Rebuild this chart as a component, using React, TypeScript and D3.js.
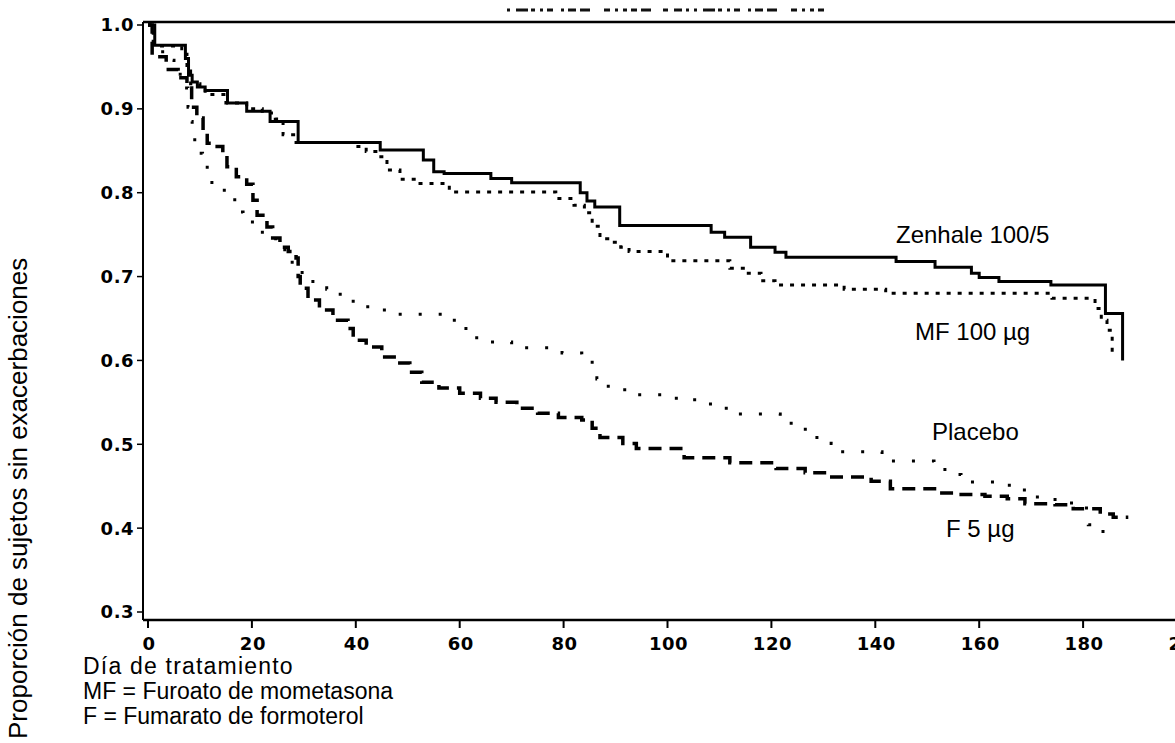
import React, { useEffect, useRef } from 'react'
import * as d3 from 'd3'

// Kaplan-Meier style step curves: [day, proportion after that day]
const zenhale: [number, number][] = [
  [0, 1.0], [1.3, 0.976], [7.2, 0.96], [7.8, 0.94], [8.5, 0.932], [9.5, 0.926], [11, 0.922],
  [15.3, 0.907], [19, 0.897], [23.5, 0.885], [28.9, 0.86], [44.7, 0.851], [53, 0.839],
  [55, 0.825], [57, 0.823], [66, 0.817], [70, 0.812], [83.2, 0.8], [84.5, 0.79], [86, 0.783],
  [90.8, 0.761], [108.4, 0.753], [111, 0.747], [116, 0.735], [120.7, 0.729], [122.8, 0.723],
  [144, 0.718], [151.5, 0.711], [158.5, 0.704], [160, 0.699], [163.8, 0.694], [173.8, 0.69],
  [184.3, 0.656], [187.6, 0.6]
]

const mf100: [number, number][] = [
  [0, 1.0], [1, 0.975], [6.5, 0.965], [7.5, 0.945], [8.2, 0.93], [10, 0.924], [11, 0.917],
  [15, 0.907], [19, 0.9], [22, 0.895], [24.5, 0.888], [26, 0.869], [28.5, 0.86], [40, 0.855],
  [42, 0.849], [44.5, 0.843], [46, 0.827], [48.5, 0.816], [52, 0.811], [58, 0.801],
  [78.5, 0.793], [82, 0.785], [84, 0.776], [85.5, 0.76], [87, 0.745], [88.5, 0.741],
  [91, 0.735], [92.6, 0.73], [100, 0.719], [112, 0.71], [115, 0.704], [118, 0.695],
  [120.7, 0.69], [134, 0.685], [142, 0.68], [174, 0.674], [182.3, 0.662], [183.5, 0.648],
  [184.6, 0.636], [185.6, 0.609]
]

const placebo: [number, number][] = [
  [0, 1.0], [1, 0.968], [3.5, 0.958], [5, 0.948], [6.2, 0.938], [7, 0.925], [7.7, 0.902],
  [8.2, 0.885], [8.5, 0.866], [9, 0.847], [10.5, 0.835], [11.4, 0.819], [12.3, 0.803],
  [15, 0.795], [16.7, 0.777], [18.3, 0.765], [21, 0.753], [23, 0.745], [25, 0.732],
  [27.3, 0.717], [29, 0.705], [31, 0.694], [34.4, 0.685], [37, 0.677], [39.5, 0.664],
  [44, 0.66], [48, 0.655], [57.5, 0.648], [60.5, 0.638], [62.6, 0.627], [66, 0.622],
  [70, 0.615], [79.7, 0.609], [83.5, 0.605], [85.5, 0.592], [86.4, 0.578], [88.6, 0.565],
  [92.6, 0.559], [101.7, 0.553], [105.7, 0.548], [109.5, 0.543], [113.6, 0.536],
  [121.7, 0.525], [125.5, 0.518], [127.3, 0.508], [131.5, 0.501], [133.2, 0.491],
  [141.3, 0.48], [151.3, 0.475], [153.4, 0.464], [156.5, 0.455], [165.8, 0.449],
  [168.7, 0.437], [174.6, 0.43], [178.4, 0.424], [181, 0.404], [183.1, 0.396], [185, 0.396]
]

const f5: [number, number][] = [
  [0, 1.0], [0.8, 0.962], [3.5, 0.947], [5.8, 0.937], [7.5, 0.925], [8.4, 0.902], [9.4, 0.889],
  [10.6, 0.872], [11.4, 0.859], [12.5, 0.855], [14.4, 0.847], [15.2, 0.831], [17, 0.819],
  [19, 0.81], [20.2, 0.791], [21, 0.773], [22.9, 0.759], [24, 0.746], [25.4, 0.735], [27, 0.73],
  [28.5, 0.722], [28.9, 0.7], [29.3, 0.686], [30.8, 0.672], [33, 0.66], [35.6, 0.648],
  [38.5, 0.638], [39.5, 0.624], [42, 0.616], [45, 0.604], [48, 0.597], [50.4, 0.586],
  [52.7, 0.574], [56, 0.567], [60, 0.561], [64, 0.555], [67, 0.55], [71, 0.543], [75, 0.537],
  [79, 0.532], [83.5, 0.529], [85.5, 0.519], [87, 0.508], [91.4, 0.501], [94, 0.495],
  [103.2, 0.484], [112, 0.478], [120.9, 0.471], [126.5, 0.466], [130.7, 0.461], [139.2, 0.456],
  [142.9, 0.447], [152.3, 0.442], [155.8, 0.44], [161.1, 0.438], [165.4, 0.435], [168.8, 0.429],
  [174.6, 0.428], [178.1, 0.423], [183.3, 0.417], [185.8, 0.413], [188.7, 0.413]
]

const xTicks = [0, 20, 40, 60, 80, 100, 120, 140, 160, 180, 200]
const yTicks = [0.3, 0.4, 0.5, 0.6, 0.7, 0.8, 0.9, 1.0]

const seriesLabels = ['Zenhale 100/5', 'MF 100 µg', 'Placebo', 'F 5 µg']
const notes = ['Día de tratamiento', 'MF = Furoato de mometasona', 'F = Fumarato de formoterol']
const yTitle = 'Proporción de sujetos sin exacerbaciones'

const FONT = '"Liberation Sans", Arial, sans-serif'
const TICK_FONT = '"DejaVu Sans", Verdana, sans-serif'

export default function App() {
  const ref = useRef<SVGSVGElement>(null)

  useEffect(() => {
    const svg = d3.select(ref.current)
    svg.selectAll('*').remove()

    const x = d3.scaleLinear().domain([0, 200]).range([148, 1187])
    const y = d3.scaleLinear().domain([0.3, 1.0]).range([612, 25])

    const left = 143, top = 22, bottom = 620, right = 1175

    // garbled scanned header at top
    svg.append('line')
      .attr('x1', 507).attr('x2', 826).attr('y1', 10).attr('y2', 10)
      .attr('stroke', '#111').attr('stroke-width', 3)
      .attr('stroke-dasharray', '3,6,12,3,4,5,3,4,6,8,3,4,8,4,10,14,6,5,3,5,4,4,6,4,10,12,5,6,8,4,3,5')

    // frame
    svg.append('line').attr('x1', left).attr('x2', right).attr('y1', top).attr('y2', top)
      .attr('stroke', '#000').attr('stroke-width', 2.5)
    svg.append('line').attr('x1', left).attr('x2', right).attr('y1', bottom).attr('y2', bottom)
      .attr('stroke', '#000').attr('stroke-width', 2.5)
    svg.append('line').attr('x1', left).attr('x2', left).attr('y1', top).attr('y2', bottom)
      .attr('stroke', '#000').attr('stroke-width', 2)

    // y ticks
    const yg = svg.append('g')
    yTicks.forEach(t => {
      yg.append('line').attr('x1', left - 6).attr('x2', left).attr('y1', y(t)).attr('y2', y(t))
        .attr('stroke', '#000').attr('stroke-width', 1.5)
      yg.append('text').attr('x', 134).attr('y', y(t)).attr('dy', '0.36em')
        .attr('text-anchor', 'end').attr('font-family', TICK_FONT).attr('font-size', 18)
        .attr('font-weight', 'bold').attr('letter-spacing', 0.5)
        .text(t.toFixed(1))
    })

    // x ticks
    const xg = svg.append('g')
    xTicks.forEach(t => {
      xg.append('line').attr('x1', x(t)).attr('x2', x(t)).attr('y1', bottom).attr('y2', bottom + 8)
        .attr('stroke', '#000').attr('stroke-width', 2)
      xg.append('text').attr('x', x(t) + 1).attr('y', 644).attr('dy', '0.36em')
        .attr('text-anchor', 'middle').attr('font-family', TICK_FONT).attr('font-size', 18)
        .attr('font-weight', 'bold').attr('letter-spacing', 0.5)
        .text(String(t))
    })

    const line = d3.line<[number, number]>()
      .x(d => x(d[0]))
      .y(d => y(d[1]))
      .curve(d3.curveStepAfter)

    const styles = [
      { data: zenhale, dash: null, w: 3 },
      { data: mf100, dash: '4,7', w: 3 },
      { data: placebo, dash: '3,17', w: 3 },
      { data: f5, dash: '13,8', w: 3.5 }
    ]
    styles.forEach(s => {
      const p = svg.append('path')
        .attr('d', line(s.data))
        .attr('fill', 'none')
        .attr('stroke', '#000')
        .attr('stroke-width', s.w)
      if (s.dash) p.attr('stroke-dasharray', s.dash)
    })

    // curve labels
    const labelPos = [[896, 243], [915, 340], [932, 440], [946, 537]]
    seriesLabels.forEach((l, i) => {
      svg.append('text').attr('x', labelPos[i][0]).attr('y', labelPos[i][1])
        .attr('font-family', FONT).attr('font-size', 24).text(l)
    })

    // notes
    notes.forEach((n, i) => {
      svg.append('text').attr('x', 83).attr('y', 674 + i * 25)
        .attr('font-family', FONT).attr('font-size', 23)
        .attr('letter-spacing', i === 0 ? 1.2 : 0)
        .text(n)
    })

    // y title
    svg.append('text')
      .attr('transform', 'translate(27, 739) rotate(-90)')
      .attr('font-family', FONT).attr('font-size', 26)
      .text(yTitle)
  }, [])

  return (
    <svg ref={ref} width={1175} height={743}
      style={{ position: 'absolute', left: 0, top: 0, background: '#fff' }} />
  )
}
